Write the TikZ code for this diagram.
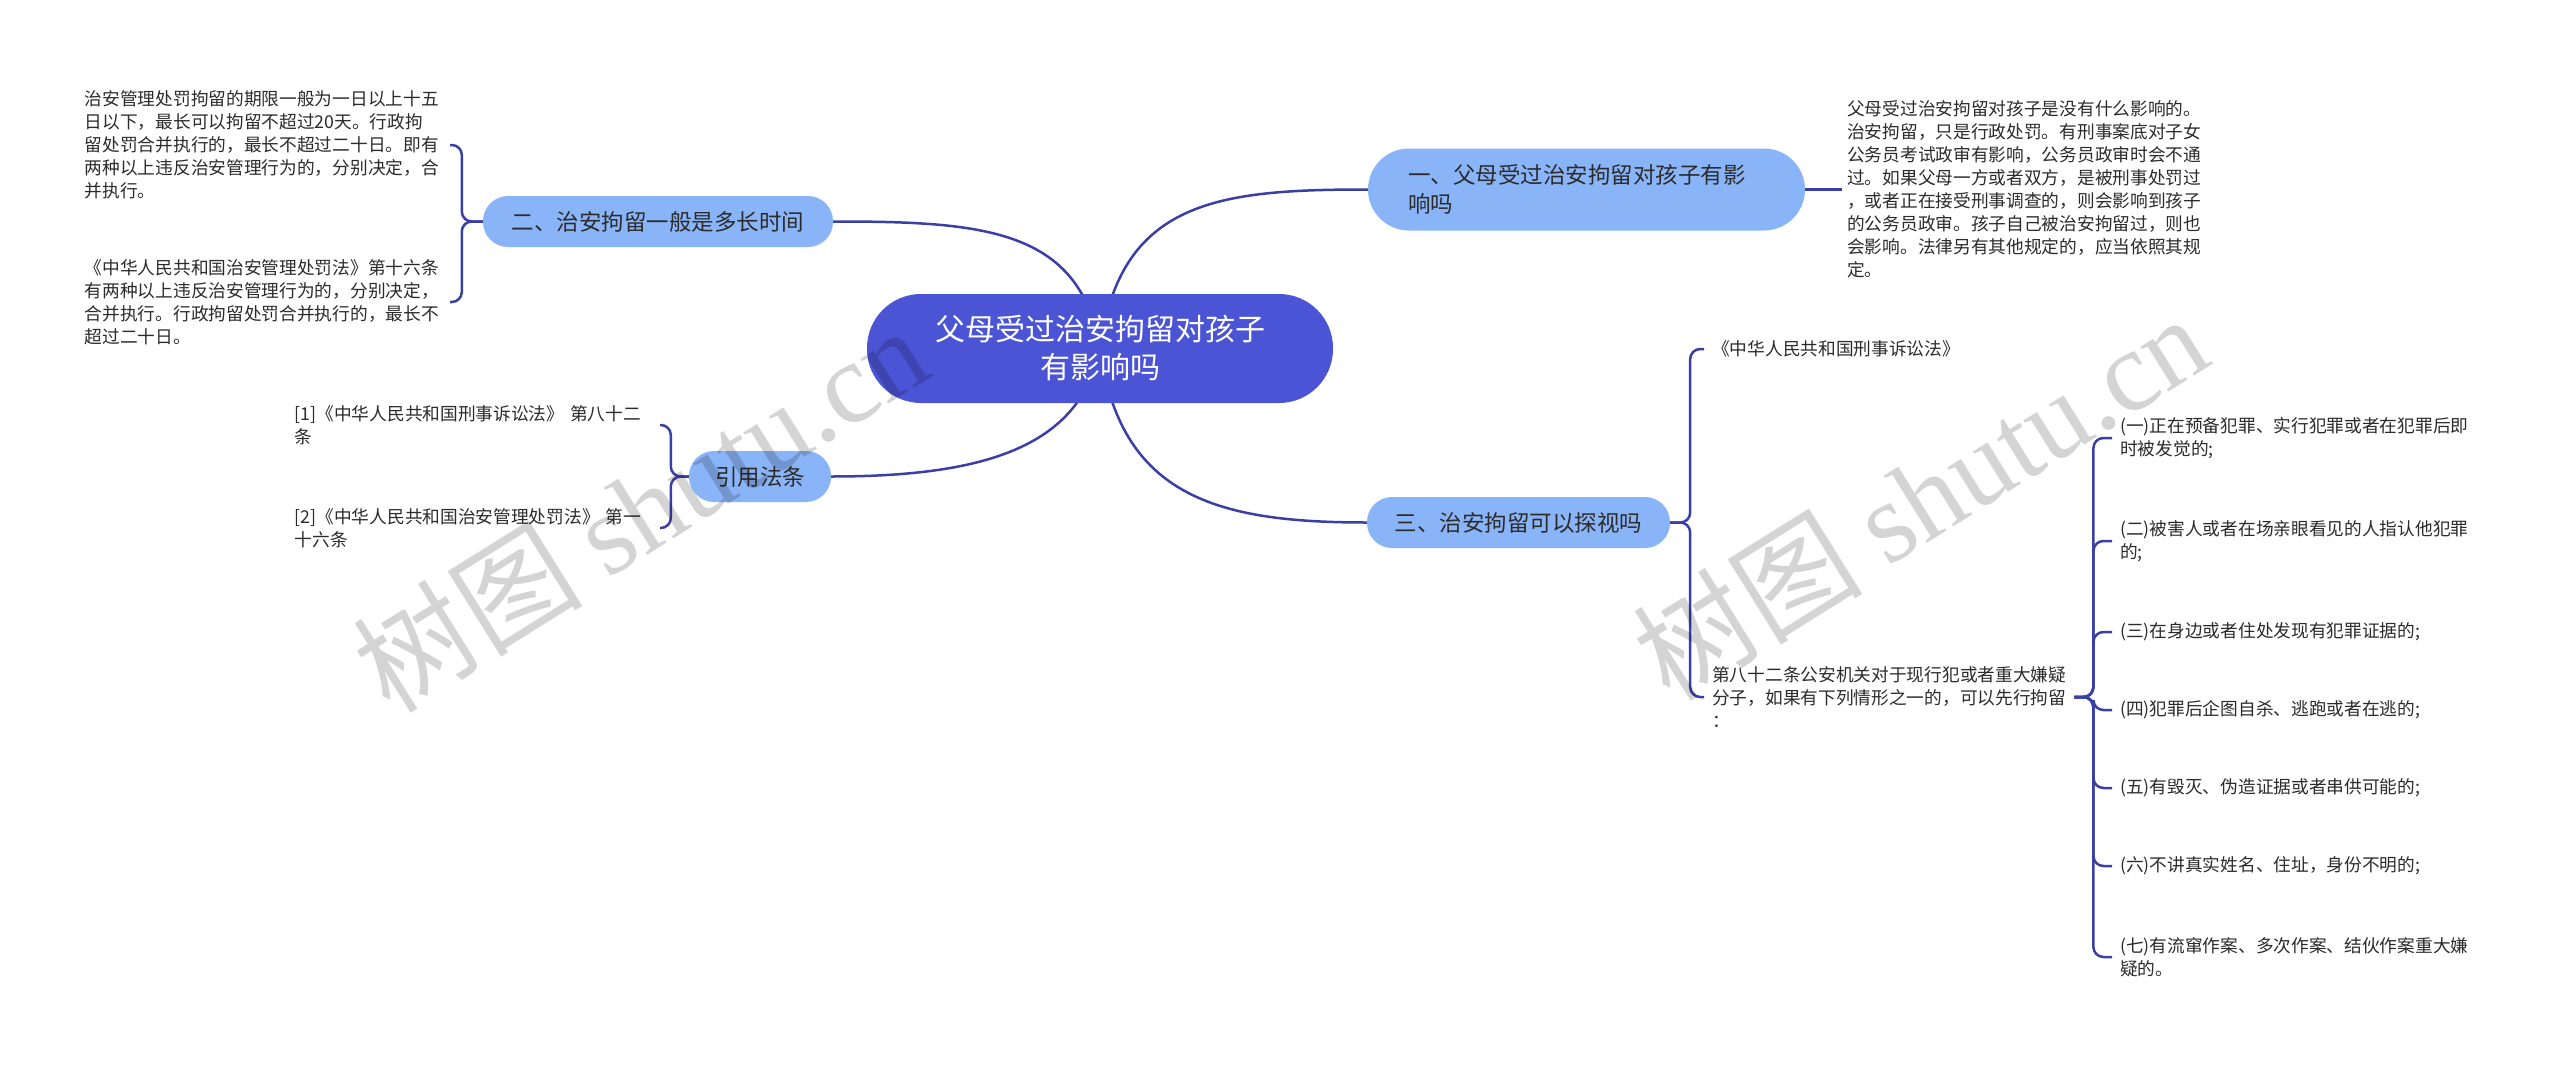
\documentclass[tikz,border=0pt]{standalone}
\usepackage{fontspec}
\setmainfont{Noto Sans CJK SC}
\newfontfamily\wmserif{Liberation Serif}
\usetikzlibrary{backgrounds}
\definecolor{cmain}{HTML}{4B54D5}
\definecolor{cbranch}{HTML}{8AB4F8}
\definecolor{cline}{HTML}{3A3FA6}
\definecolor{ctext}{HTML}{2B2B2B}
\begin{document}
\begin{tikzpicture}[x=1pt,y=-1pt,
  mainnode/.style={fill=cmain, text=white, rounded corners=54pt, minimum width=466pt, minimum height=109pt, align=center, font=\fontsize{30}{38}\selectfont, inner sep=0pt},
  branch/.style={fill=cbranch, text=ctext, rounded corners=25pt, minimum height=51pt, inner xsep=0pt, inner ysep=0pt, font=\fontsize{22.5}{29}\selectfont},
  leaf/.style={text=ctext, font=\fontsize{17.7}{23}\selectfont, align=left, inner xsep=5pt, inner ysep=0pt},
  link/.style={draw=cline, line width=2.5pt},
  bracket/.style={link, rounded corners=10pt},
  wm/.style={text=black, text opacity=0.17, rotate=32, font=\fontsize{115}{120}\selectfont}]
\useasboundingbox (0,0) rectangle (2560,1065);

% central and branches
\node[mainnode] (c) at (1100,348.5) {父母受过治安拘留对孩子\\有影响吗};
\node[branch, minimum width=437pt, minimum height=82pt, rounded corners=41pt, text width=357pt, align=left] (b1) at (1586.5,189.5) {一、父母受过治安拘留对孩子有影\\响吗};
\node[branch, minimum width=350pt] (b2) at (658,221.5) {二、治安拘留一般是多长时间};
\node[branch, minimum width=142pt] (b4) at (760,476.5) {引用法条};
\node[branch, minimum width=303pt] (b3) at (1518.5,522.5) {三、治安拘留可以探视吗};

% left leaves
\node[leaf, text width=360pt, anchor=east] (l1) at (450,145) {治安管理处罚拘留的期限一般为一日以上十五\\日以下，最长可以拘留不超过20天。行政拘\\留处罚合并执行的，最长不超过二十日。即有\\两种以上违反治安管理行为的，分别决定，合\\并执行。};
\node[leaf, text width=360pt, anchor=east] (l2) at (450,302) {《中华人民共和国治安管理处罚法》第十六条\\有两种以上违反治安管理行为的，分别决定，\\合并执行。行政拘留处罚合并执行的，最长不\\超过二十日。};
\node[leaf, text width=360pt, anchor=east] (f1) at (660,425) {[1]《中华人民共和国刑事诉讼法》~第八十二\\条};
\node[leaf, text width=360pt, anchor=east] (f2) at (660,528) {[2]《中华人民共和国治安管理处罚法》~第一\\十六条};

% right leaves
\node[leaf, anchor=west] (r1) at (1842,189.5) {父母受过治安拘留对孩子是没有什么影响的。\\治安拘留，只是行政处罚。有刑事案底对子女\\公务员考试政审有影响，公务员政审时会不通\\过。如果父母一方或者双方，是被刑事处罚过\\，或者正在接受刑事调查的，则会影响到孩子\\的公务员政审。孩子自己被治安拘留过，则也\\会影响。法律另有其他规定的，应当依照其规\\定。};
\node[leaf, anchor=west, inner xsep=8pt] (s1) at (1704,349) {《中华人民共和国刑事诉讼法》};
\node[leaf, anchor=west, inner xsep=8pt] (s2) at (1704,697) {第八十二条公安机关对于现行犯或者重大嫌疑\\分子，如果有下列情形之一的，可以先行拘留\\：};

\node[leaf, anchor=west, inner xsep=8pt] (t1) at (2112,438) {(一)正在预备犯罪、实行犯罪或者在犯罪后即\\时被发觉的;};
\node[leaf, anchor=west, inner xsep=8pt] (t2) at (2112,541) {(二)被害人或者在场亲眼看见的人指认他犯罪\\的;};
\node[leaf, anchor=west, inner xsep=8pt] (t3) at (2112,632) {(三)在身边或者住处发现有犯罪证据的;};
\node[leaf, anchor=west, inner xsep=8pt] (t4) at (2112,710) {(四)犯罪后企图自杀、逃跑或者在逃的;};
\node[leaf, anchor=west, inner xsep=8pt] (t5) at (2112,788) {(五)有毁灭、伪造证据或者串供可能的;};
\node[leaf, anchor=west, inner xsep=8pt] (t6) at (2112,866) {(六)不讲真实姓名、住址，身份不明的;};
\node[leaf, anchor=west, inner xsep=8pt] (t7) at (2112,957) {(七)有流窜作案、多次作案、结伙作案重大嫌\\疑的。};

\begin{scope}[on background layer]
  \fill[white] (0,0) rectangle (2560,1065);
  \draw[link] (c.center) .. controls +(20,-148) and +(-150,0) .. (b1.west);
  \draw[link] (c.center) .. controls +(20,148) and +(-150,0) .. (b3.west);
  \draw[link] (c.center) .. controls +(-20,-120) and +(150,0) .. (b2.east);
  \draw[link] (c.center) .. controls +(-20,100) and +(150,0) .. (b4.east);
  \draw[bracket] (b2.west) -- ++(-21,0) |- (l1.east);
  \draw[bracket] (b2.west) -- ++(-21,0) |- (l2.east);
  \draw[bracket] (b4.west) -- ++(-18,0) |- (f1.east);
  \draw[bracket] (b4.west) -- ++(-18,0) |- (f2.east);
  \draw[link] (b1.east) -- (r1.west);
  \draw[bracket] (b3.east) -- ++(20,0) |- (s1.west);
  \draw[bracket] (b3.east) -- ++(20,0) |- (s2.west);
  \foreach \t in {t1,t2,t3,t4,t5,t6,t7}{
    \draw[bracket] (s2.east) -- ++(19,0) |- (\t.west);
  }
\end{scope}

% watermarks
\node[wm] (w1) at (640,508) {树图 {\wmserif shutu.cn}};
\node[wm] (w2) at (1920,496) {树图 {\wmserif shutu.cn}};
\end{tikzpicture}
\end{document}
